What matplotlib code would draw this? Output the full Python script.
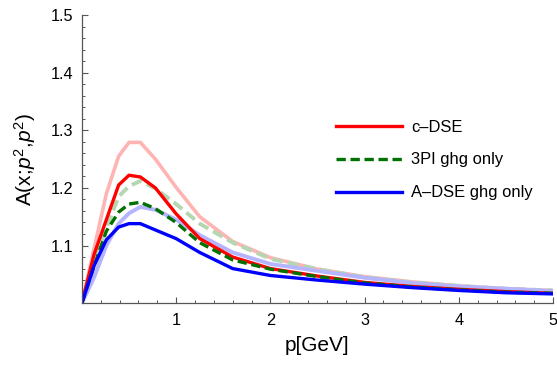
import matplotlib
matplotlib.use("Agg")
import matplotlib.pyplot as plt
from matplotlib.ticker import MultipleLocator, FixedLocator

plt.rcParams['font.family'] = ['Liberation Sans', 'DejaVu Sans']
plt.rcParams['mathtext.fontset'] = 'custom'
plt.rcParams['mathtext.rm'] = 'Liberation Sans'
plt.rcParams['mathtext.it'] = 'Liberation Sans:italic'

p = [0, 0.13, 0.26, 0.39, 0.5, 0.62, 0.78, 1.0, 1.25, 1.6, 2.0, 2.5, 3.0, 3.5, 4.0, 4.5, 5.0]

pink = [1.0, 1.095, 1.19, 1.255, 1.279, 1.279, 1.250, 1.201, 1.150, 1.107, 1.079, 1.059, 1.046, 1.037, 1.030, 1.025, 1.022]
lightgreen = [1.0, 1.07, 1.13, 1.185, 1.203, 1.212, 1.199, 1.172, 1.138, 1.105, 1.077, 1.059, 1.045, 1.036, 1.030, 1.025, 1.022]
lightblue = [1.0, 1.045, 1.10, 1.138, 1.156, 1.167, 1.162, 1.145, 1.118, 1.088, 1.068, 1.056, 1.044, 1.035, 1.029, 1.025, 1.021]
red = [1.0, 1.085, 1.145, 1.205, 1.222, 1.219, 1.200, 1.155, 1.112, 1.080, 1.060, 1.047, 1.036, 1.029, 1.024, 1.020, 1.017]
darkgreen = [1.0, 1.065, 1.125, 1.158, 1.172, 1.175, 1.164, 1.140, 1.105, 1.075, 1.059, 1.046, 1.035, 1.028, 1.023, 1.019, 1.017]
blue = [1.0, 1.065, 1.11, 1.132, 1.138, 1.138, 1.127, 1.112, 1.088, 1.060, 1.048, 1.040, 1.033, 1.027, 1.022, 1.018, 1.016]

labels = ["c\u2013DSE", "3PI ghg only", "A\u2013DSE ghg only"]

fig = plt.figure(figsize=(5.57, 3.67), dpi=100)
ax = fig.add_axes([0.147, 0.174, 0.846, 0.785])

dash = (0, (2.8, 1.4))
ax.plot(p, pink, color='#FFB4B4', lw=2.6, zorder=1)
ax.plot(p, lightgreen, color='#B4D6B0', lw=2.8, ls=dash, zorder=1)
ax.plot(p, lightblue, color='#B4B4FF', lw=2.8, zorder=1)
ax.plot(p, red, color='#FF0000', lw=2.4, label=labels[0], zorder=2)
ax.plot(p, darkgreen, color='#007000', lw=2.4, ls=dash, label=labels[1], zorder=2)
ax.plot(p, blue, color='#0000FF', lw=2.4, label=labels[2], zorder=2)

ax.set_xlim(0, 5)
ax.set_ylim(1.0, 1.5)
ax.xaxis.set_major_locator(FixedLocator([1, 2, 3, 4, 5]))
ax.xaxis.set_minor_locator(MultipleLocator(0.2))
ax.yaxis.set_major_locator(FixedLocator([1.1, 1.2, 1.3, 1.4, 1.5]))
ax.yaxis.set_minor_locator(MultipleLocator(0.02))
ax.set_xticklabels(['1', '2', '3', '4', '5'])
ax.set_yticklabels(['1.1', '1.2', '1.3', '1.4', '1.5'])

for s in ['top', 'right']:
    ax.spines[s].set_visible(False)
for s in ['left', 'bottom']:
    ax.spines[s].set_color('#555555')
    ax.spines[s].set_linewidth(0.9)
ax.tick_params(which='both', direction='in', color='#555555', labelsize=11.7)
ax.tick_params(which='major', length=4.5, width=0.8)
ax.tick_params(which='minor', length=2.5, width=0.7)
ax.tick_params(axis='x', pad=7)
ax.tick_params(axis='y', pad=6)

ax.set_xlabel('p[GeV]', fontsize=15, labelpad=6)
ax.set_ylabel(r'A(x;$\mathit{p}^2$,$\mathit{p}^2$)', fontsize=15, labelpad=9)

ax.legend(loc='upper left', bbox_to_anchor=(0.539, 0.637), frameon=False,
          fontsize=11.9, handlelength=4.0, handletextpad=0.55, labelspacing=1.08,
          borderpad=0, borderaxespad=0)

fig.savefig('out.png', dpi=100)
